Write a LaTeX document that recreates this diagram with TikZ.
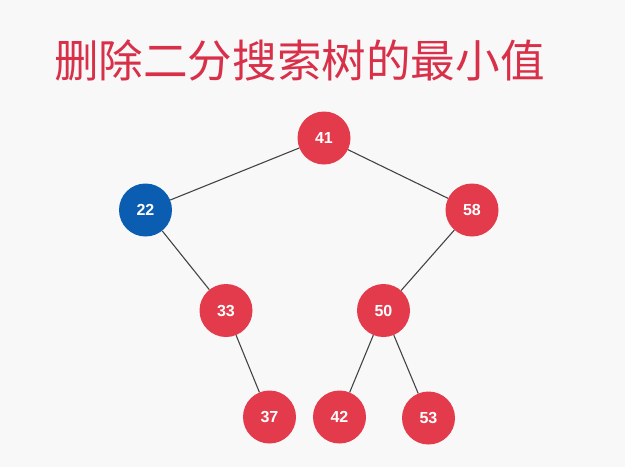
\documentclass[tikz,border=0pt]{standalone}
\usepackage{fontspec}
\setmainfont{Liberation Sans}
\newfontfamily\cjk{Noto Sans CJK SC}
\definecolor{nodered}{HTML}{E33B4B}
\definecolor{nodeblue}{HTML}{0A5DB1}
\definecolor{titlered}{HTML}{D9304A}
\definecolor{bg}{HTML}{F8F8F8}
\definecolor{edge}{HTML}{444444}
\begin{document}
\begin{tikzpicture}[x=1pt,y=-1pt,
  bstnode/.style={circle,fill=nodered,draw=none,minimum size=53pt,inner sep=0pt,text=white,font=\bfseries\fontsize{16}{16}\selectfont},
  bluenode/.style={bstnode,fill=nodeblue},
  link/.style={draw=edge,line width=1.1pt}]
\fill[bg] (0,0) rectangle (625,467);
\useasboundingbox (0,0) rectangle (625,467);
\node[anchor=west,text=titlered,font=\cjk\fontsize{44.6}{44.6}\selectfont,inner sep=0pt] (title) at (54,60) {删除二分搜索树的最小值};
\node[bstnode] (n41) at (324,138) {41};
\node[bluenode] (n22) at (145.5,210) {22};
\node[bstnode] (n58) at (472,210) {58};
\node[bstnode] (n33) at (226,310.5) {33};
\node[bstnode] (n50) at (383.5,310.5) {50};
\node[bstnode] (n37) at (269.5,417) {37};
\node[bstnode] (n42) at (339.5,417) {42};
\node[bstnode] (n53) at (428.5,418) {53};
\draw[link] (n41) -- (n22);
\draw[link] (n41) -- (n58);
\draw[link] (n22) -- (n33);
\draw[link] (n33) -- (n37);
\draw[link] (n58) -- (n50);
\draw[link] (n50) -- (n42);
\draw[link] (n50) -- (n53);
\end{tikzpicture}
\end{document}
